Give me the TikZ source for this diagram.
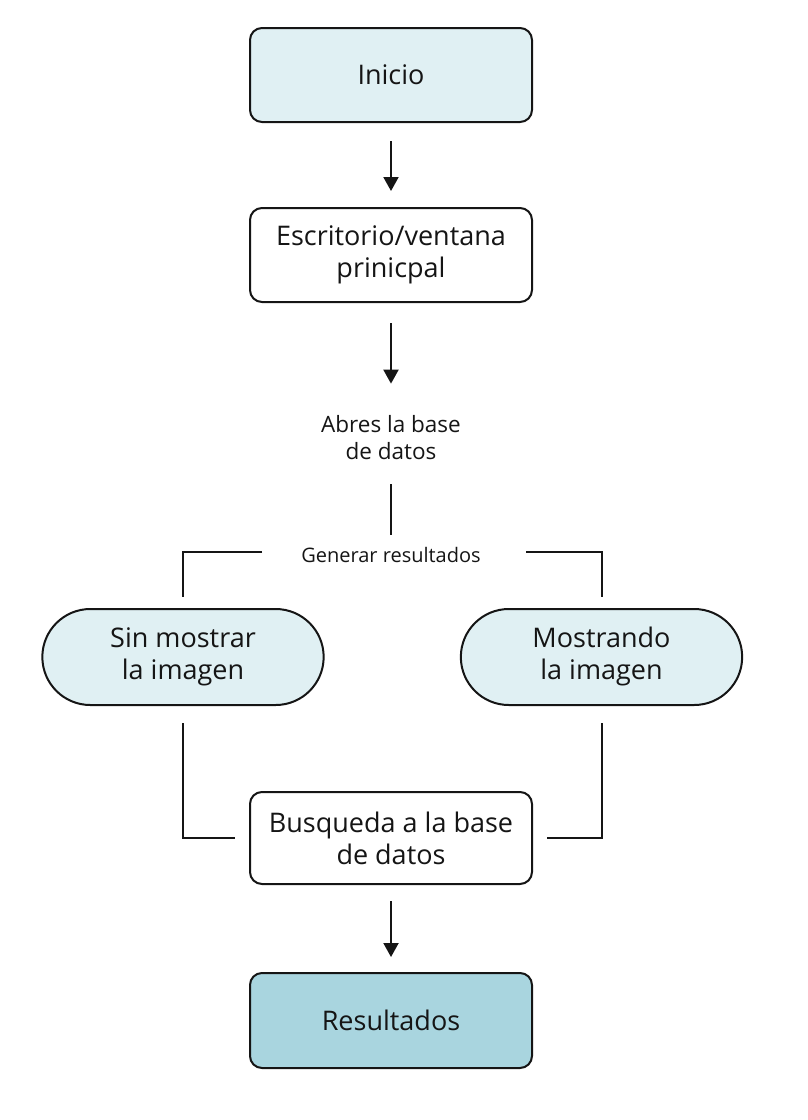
\documentclass[tikz,border=0pt]{standalone}
\usepackage{fontspec}
\setmainfont{Open Sans}
\usetikzlibrary{arrows.meta,shapes.misc,calc}
\definecolor{lightfill}{HTML}{E0F0F3}
\definecolor{darkfill}{HTML}{A9D5DF}
\definecolor{ink}{HTML}{151515}
\tikzset{
  box/.style={draw=ink, line width=2pt, rounded corners=12pt, minimum width=282pt, minimum height=94pt, align=center, font=\fontsize{27}{32}\selectfont, text=ink},
  pill/.style={draw=ink, line width=2pt, rounded rectangle, minimum width=288pt, minimum height=96pt, align=center, font=\fontsize{27}{32}\selectfont, text=ink, fill=lightfill},
  lbl/.style={align=center, font=\fontsize{22.5}{27}\selectfont, text=ink, inner sep=0pt},
  small/.style={align=center, font=\fontsize{20}{24}\selectfont, text=ink, inner sep=0pt},
  conn/.style={draw=ink, line width=2pt},
  arr/.style={conn, -{Triangle[length=14pt,width=15pt]}},
}
\begin{document}
\begin{tikzpicture}[x=1pt,y=-1pt]
\useasboundingbox (0,0) rectangle (808,1120);
\node[box, fill=lightfill] (inicio) at (391,75) {Inicio};
\node[box, fill=white] (escr) at (391,255) {Escritorio/ventana\\prinicpal};
\node[lbl] (abres) at (391,438) {Abres la base\\de datos};
\node[small] (gen) at (391,555) {Generar resultados};
\node[pill] (left) at (183,657) {\raisebox{-4pt}{\begin{tabular}{@{}c@{}}Sin mostrar\\la imagen\end{tabular}}};
\node[pill] (right) at (601.5,657) {\raisebox{-4pt}{\begin{tabular}{@{}c@{}}Mostrando\\la imagen\end{tabular}}};
\node[box, fill=white, minimum height=92pt] (busq) at (391,838) {Busqueda a la base\\de datos};
\node[box, fill=darkfill, minimum height=95pt] (res) at (391,1020.5) {Resultados};
\coordinate (gl) at (262,552);
\coordinate (gr) at (526,552);
\draw[arr, shorten <=18pt, shorten >=16pt] (inicio.south) -- (escr.north);
\draw[arr, shorten <=20pt] (escr.south) -- ($(abres.north)+(0,-32)$);
\draw[conn, shorten <=24pt, shorten >=12pt] (abres.south) -- (gen.north);
\draw[conn, shorten >=11pt] (gl) -| (left.north);
\draw[conn, shorten >=11pt] (gr) -| (right.north);
\draw[conn, shorten <=17pt, shorten >=14pt] (left.south) |- (busq.west);
\draw[conn, shorten <=17pt, shorten >=14pt] (right.south) |- (busq.east);
\draw[arr, shorten <=16pt, shorten >=15pt] (busq.south) -- (res.north);
\end{tikzpicture}
\end{document}
